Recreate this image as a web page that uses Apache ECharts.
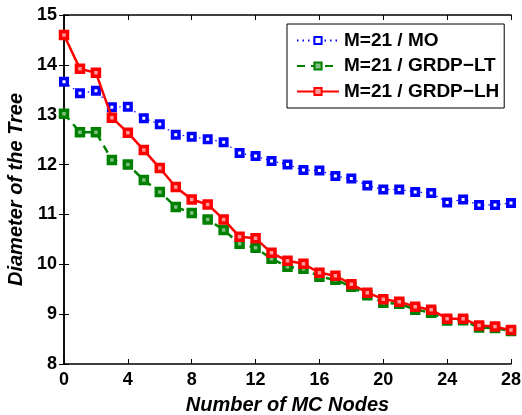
<!DOCTYPE html>
<html>
<head>
<meta charset="utf-8">
<script src="https://cdn.jsdelivr.net/npm/echarts@6/dist/echarts.min.js"></script>
<style>html,body{margin:0;padding:0;background:#fff}#c{width:522px;height:415px}</style>
</head>
<body>
<div id="c"></div>
<script>
const xValues = [0,1,2,3,4,5,6,7,8,9,10,11,12,13,14,15,16,17,18,19,20,21,22,23,24,25,26,27,28];
const moValues = [13.66,13.43,13.48,13.15,13.16,12.93,12.81,12.60,12.56,12.51,12.45,12.23,12.17,12.07,12.00,11.89,11.88,11.77,11.72,11.58,11.50,11.50,11.45,11.43,11.24,11.30,11.19,11.19,11.23];
const ltValues = [13.02,12.65,12.65,12.09,12.00,11.69,11.45,11.15,11.03,10.90,10.69,10.41,10.33,10.11,9.95,9.91,9.75,9.69,9.55,9.38,9.23,9.21,9.09,9.03,8.87,8.88,8.73,8.72,8.66];
const lhValues = [14.60,13.92,13.84,12.94,12.64,12.29,11.93,11.55,11.30,11.20,10.90,10.55,10.52,10.23,10.07,10.01,9.83,9.77,9.60,9.43,9.30,9.25,9.15,9.09,8.91,8.91,8.77,8.75,8.68];
const seriesNames = ['M=21 / MO','M=21 / GRDP\u2212LT','M=21 / GRDP\u2212LH'];
const xTitle = 'Number of MC Nodes';
const yTitle = 'Diameter of the Tree';

const pair = (vals) => xValues.map((x,i)=>[x, vals[i]]);
const FONT = '"Liberation Sans", Arial, sans-serif';
const axisLine = {show:true, lineStyle:{color:'#000', width:1.5}};
const axisTick = {show:true, inside:true, length:5, lineStyle:{color:'#000', width:1}};

const chart = echarts.init(document.getElementById('c'), null, {renderer:'canvas'});
chart.setOption({
  animation:false,
  backgroundColor:'#fff',
  grid:{left:64, right:11, top:15, bottom:51, containLabel:false, outerBoundsMode:'none'},
  legend:{
    show:true, orient:'vertical', left:287, top:24,
    data:seriesNames,
    backgroundColor:'#fff', borderColor:'#000', borderWidth:1,
    padding:[7,5,7,9], itemGap:6.5, itemWidth:42, itemHeight:9,
    textStyle:{fontFamily:FONT, fontWeight:'bold', fontSize:19, lineHeight:16, color:'#000'}
  },
  xAxis:[{
    type:'value', min:0, max:28, interval:4, position:'bottom',
    name:xTitle, nameLocation:'middle', nameGap:31,
    nameTextStyle:{fontFamily:FONT, fontWeight:'bold', fontStyle:'italic', fontSize:20, color:'#000'},
    axisLine, axisTick, splitLine:{show:false},
    axisLabel:{fontFamily:FONT, fontWeight:'bold', fontSize:18, color:'#000', margin:7, hideOverlap:false}
  },{
    type:'value', min:0, max:28, interval:4, position:'top',
    axisLine, axisTick, splitLine:{show:false}, axisLabel:{show:false}
  }],
  yAxis:[{
    type:'value', min:8, max:15, interval:1, position:'left',
    name:yTitle, nameLocation:'middle', nameGap:30, nameRotate:90,
    nameTextStyle:{fontFamily:FONT, fontWeight:'bold', fontStyle:'italic', fontSize:20, color:'#000'},
    axisLine, axisTick, splitLine:{show:false},
    axisLabel:{fontFamily:FONT, fontWeight:'bold', fontSize:18, color:'#000', margin:7}
  },{
    type:'value', min:8, max:15, interval:1, position:'right',
    axisLine, axisTick, splitLine:{show:false}, axisLabel:{show:false}
  }],
  series:[{
    name:seriesNames[0], type:'line', data:pair(moValues),
    symbol:'rect', symbolSize:6.5,
    lineStyle:{color:'#0000ff', width:1.2, type:[1.5,4]},
    itemStyle:{color:'#ffffff', borderColor:'#0000ff', borderWidth:3.5},
    z:2
  },{
    name:seriesNames[1], type:'line', data:pair(ltValues),
    symbol:'rect', symbolSize:7,
    lineStyle:{color:'#008000', width:2.5, type:[8,6]},
    itemStyle:{color:'#7fbf7f', borderColor:'#008000', borderWidth:3.5},
    z:3
  },{
    name:seriesNames[2], type:'line', data:pair(lhValues),
    symbol:'rect', symbolSize:7,
    lineStyle:{color:'#ff0000', width:2.5, type:'solid'},
    itemStyle:{color:'#ff9a9a', borderColor:'#ff0000', borderWidth:3.5},
    z:4
  }]
});
</script>
</body>
</html>
